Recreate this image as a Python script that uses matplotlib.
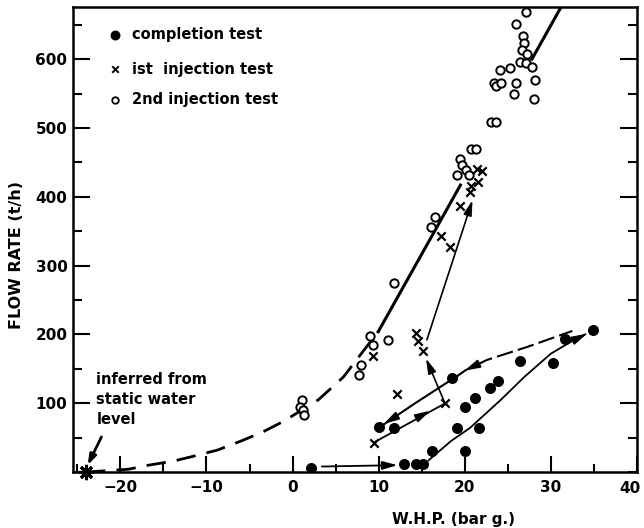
import matplotlib
matplotlib.use('Agg')
import matplotlib.pyplot as plt
from matplotlib.ticker import MultipleLocator, FixedFormatter

plt.rcParams['font.family'] = ['DejaVu Sans']
plt.rcParams['font.weight'] = 'bold'

# completion test (filled dots)
comp_whp = [34.9, 31.7, 26.4, 30.3, 23.9, 22.9, 21.2, 20.0, 18.5, 19.1, 21.7,
            16.2, 20.0, 10.0, 11.8, 13.0, 14.3, 15.1, 2.1]
comp_flow = [206, 193, 161, 159, 132, 122, 107, 94, 136, 64, 64,
             31, 30, 65, 64, 12, 12, 12, 6]

# 1st injection test (crosses)
inj1_whp = [9.3, 12.1, 14.3, 14.6, 15.2, 17.7, 9.5, 17.3, 18.3, 19.5,
            20.6, 20.7, 21.5, 21.4, 22.0]
inj1_flow = [169, 113, 202, 190, 176, 100, 42, 343, 327, 387,
             407, 415, 421, 440, 437]

# 2nd injection test (open circles)
inj2_whp = [27.1, 25.9, 26.8, 26.9, 26.7, 27.2, 26.4, 27.1, 27.8, 25.2, 24.1,
            23.4, 23.6, 24.2, 26.0, 28.2, 25.7, 28.0, 23.0, 23.6, 20.7, 21.3,
            19.5, 19.7, 20.1, 19.1, 20.5, 16.6, 16.1, 11.8, 9.0, 9.3, 11.1,
            8.0, 7.7, 1.1, 0.9, 1.2, 1.3]
inj2_flow = [668, 651, 634, 623, 613, 608, 596, 594, 588, 587, 584,
             566, 561, 566, 566, 569, 550, 542, 508, 508, 470, 470,
             455, 446, 439, 432, 432, 371, 356, 275, 198, 185, 192,
             156, 141, 105, 95, 90, 83]

# trend lines
dash_whp = [-24.0, -19.1, -16.7, -13.8, -11.5, -8.7, -6.0, -3.5, -1.0, 3.0, 5.9, 10.0]
dash_flow = [0, 4, 10, 16, 23, 32, 45, 58, 74, 105, 138, 205]
solid_whp = [10.0, 19.5]
solid_flow = [205, 417]
top_whp = [27.8, 31.2]
top_flow = [600, 676]
upper_whp = [10.0, 11.4, 14.0, 17.2, 19.2]
upper_flow = [64, 76, 98, 124, 140]
upper_dash_whp = [19.2, 20.1, 22.6, 27.3, 32.5]
upper_dash_flow = [140, 148, 163, 182, 205]
lower_whp = [15.8, 18.4, 20.6, 24.2, 26.9, 30.0, 32.3, 34.0]
lower_flow = [17, 45, 64, 105, 138, 172, 189, 200]

x_ticks = [-20, -10, 0, 10, 20, 30, 40]
x_labels = ['\u221220', '\u221210', '0', '10', '20', '30', '']
y_ticks = [100, 200, 300, 400, 500, 600]

fig = plt.figure(figsize=(6.44, 5.28), dpi=100)
ax = fig.add_axes([0.1134, 0.106, 0.8756, 0.881])

ax.plot(dash_whp, dash_flow, color='k', lw=2.0, dashes=(7, 4))
ax.plot(solid_whp, solid_flow, color='k', lw=2.2)
ax.plot(top_whp, top_flow, color='k', lw=2.2)
ax.plot(upper_whp, upper_flow, color='k', lw=1.5)
ax.plot(upper_dash_whp, upper_dash_flow, color='k', lw=1.5, dashes=(8, 2.5))
ax.plot(lower_whp, lower_flow, color='k', lw=1.3)


def arrow(tail, tip, lw=1.2, hl=0.9, hw=0.25):
    ax.annotate('', xy=tip, xytext=tail,
                arrowprops=dict(arrowstyle=f'-|>,head_length={hl},head_width={hw}',
                                color='k', lw=lw, shrinkA=0, shrinkB=0))


arrow((15.6, 192), (20.9, 395))
arrow((17.7, 100), (15.5, 165))
ax.plot([9.6, 17.6], [44, 99], color='k', lw=1.3)
arrow((14.5, 79), (16.0, 89), lw=1.3)
arrow((12.2, 82), (10.6, 70), lw=1.3)
arrow((21.6, 157), (20.0, 147.5), lw=1.3)
arrow((3.4, 8), (12.2, 10), lw=1.3)
arrow((32.4, 190), (34.2, 201), lw=1.3)

ax.scatter(comp_whp, comp_flow, s=48, c='k', marker='o', zorder=3)
ax.scatter(inj1_whp, inj1_flow, s=36, c='k', marker='x', linewidths=1.6, zorder=3)
ax.scatter(inj2_whp, inj2_flow, s=36, facecolors='white', edgecolors='k',
           marker='o', linewidths=1.4, zorder=3)
ax.plot([-24], [0], marker=(8, 2, 0), ms=11, mew=2.2, color='k', clip_on=False, zorder=4)

# legend drawn as text
legend_rows = [('o', 'k', 'completion test', 0.940),
               ('x', 'k', 'ist  injection test', 0.866),
               ('o', 'w', '2nd injection test', 0.800)]
for m, fc, label, yy in legend_rows:
    if m == 'x':
        ax.scatter([0.075], [yy], transform=ax.transAxes, s=22, c='k', marker='x', linewidths=1.4)
    else:
        ax.scatter([0.075], [yy], transform=ax.transAxes, s=34 if fc == 'k' else 22,
                   facecolors=fc, edgecolors='k', linewidths=1.3)
    ax.text(0.105, yy, label, transform=ax.transAxes, fontsize=10.5, va='center')

ax.text(-22.8, 105, 'inferred from\nstatic water\nlevel', fontsize=10.5, va='center',
        linespacing=1.4)
arrow((-22.2, 51), (-23.8, 10), lw=2.0, hl=0.6, hw=0.2)

ax.set_xlim(-25.5, 40)
ax.set_ylim(0, 676)
ax.set_xticks(x_ticks)
ax.xaxis.set_major_formatter(FixedFormatter(x_labels))
ax.xaxis.set_minor_locator(MultipleLocator(5))
ax.set_yticks(y_ticks)
ax.yaxis.set_minor_locator(MultipleLocator(50))
ax.tick_params(axis='x', which='major', direction='in', length=11.5, width=1.5,
               labelsize=11, pad=6, top=False)
ax.tick_params(axis='x', which='minor', direction='in', length=6, width=1.5, top=False)
ax.tick_params(axis='y', which='major', direction='in', length=12, width=1.5,
               labelsize=11, pad=4, right=True)
ax.tick_params(axis='y', which='minor', direction='in', length=6.5, width=1.5, right=True)
for s in ax.spines.values():
    s.set_linewidth(1.8)

# last x label nudged left so it stays inside the figure
ax.annotate('40', xy=(40, 0), xycoords='data', xytext=(-5, -6.5), textcoords='offset points',
            ha='center', va='top', fontsize=11, annotation_clip=False)

ax.set_xlabel('W.H.P. (bar g.)', fontsize=11, fontweight='bold')
ax.xaxis.set_label_coords(0.674, -0.086)
ax.set_ylabel('FLOW RATE (t/h)', fontsize=11.5, fontweight='bold')
ax.yaxis.set_label_coords(-0.087, 0.467)

fig.savefig('out.png', dpi=100)
